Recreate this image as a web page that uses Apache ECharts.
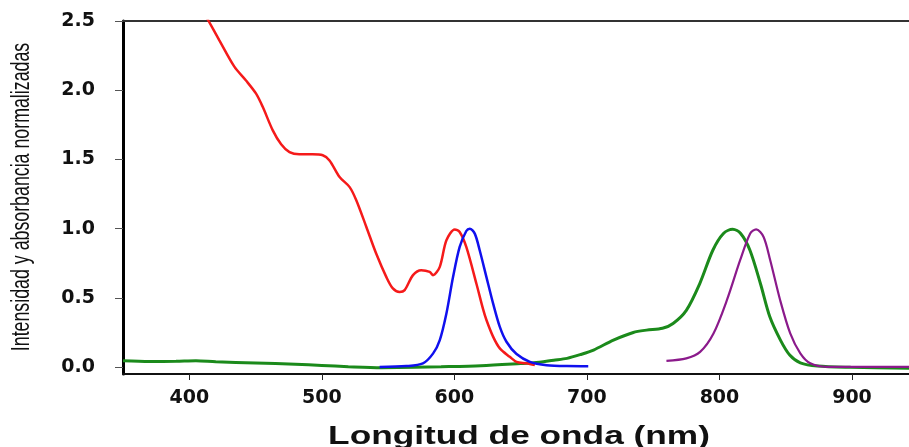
<!DOCTYPE html>
<html>
<head>
<meta charset="utf-8">
<script src="https://cdn.jsdelivr.net/npm/echarts@6/dist/echarts.min.js"></script>
<style>html,body{margin:0;padding:0;background:#fff}#c{width:909px;height:447px}</style>
</head>
<body>
<div id="c"></div>
<script>
const xTicks = [400, 500, 600, 700, 800, 900];
const yTicks = [0, 0.5, 1.0, 1.5, 2.0, 2.5];
const xTitle = 'Longitud de onda (nm)';
const yTitle = 'Intensidad y absorbancia normalizadas';

const redAbs = [[411,2.56],[414.6,2.5],[422.7,2.36],[434,2.17],[442.8,2.07],[450.4,1.975],[455.4,1.88],[463,1.71],[469.3,1.61],[475.6,1.553],[483,1.537],[493,1.537],[500.7,1.53],[505.8,1.493],[513.4,1.373],[521,1.30],[526,1.205],[533.6,1.012],[541,0.82],[548.7,0.65],[553.6,0.568],[558.7,0.543],[562.5,0.556],[568.8,0.664],[575,0.70],[581.4,0.688],[583.9,0.664],[589,0.724],[594,0.916],[600.3,0.994],[604,0.976],[609,0.868],[616.7,0.60],[621.6,0.42],[624.2,0.34],[629.2,0.22],[634.3,0.135],[641.8,0.074],[646.9,0.038],[654.4,0.027],[660.7,0.014]];
const blueEm = [[543.6,0.0],[563.8,0.007],[576.3,0.027],[584,0.099],[589,0.195],[594,0.387],[599,0.65],[604,0.868],[609,0.983],[611.6,1.0],[615.4,0.964],[619.1,0.844],[624.2,0.65],[629.2,0.46],[634.3,0.29],[639.3,0.183],[646.9,0.094],[657,0.038],[669.6,0.014],[684.7,0.007],[701,0.006]];
const greenAbs = [[350,0.045],[370,0.04],[390,0.042],[405,0.046],[420,0.038],[450,0.03],[480,0.02],[500,0.012],[520,0.003],[545,-0.004],[570,-0.002],[590,0.002],[620,0.01],[650,0.025],[660,0.031],[675,0.05],[685,0.063],[695,0.09],[705,0.123],[720,0.195],[735,0.25],[745,0.267],[757,0.28],[765,0.315],[775,0.41],[785,0.6],[795,0.844],[803,0.965],[810,0.995],[816,0.965],[823,0.844],[831,0.6],[838,0.363],[846,0.195],[853,0.087],[861,0.031],[874,0.007],[899,-0.002],[943,-0.008]];
const purpleEm = [[760,0.045],[775,0.063],[785.4,0.11],[795.5,0.243],[805.6,0.483],[815.6,0.772],[823.2,0.965],[827.7,0.995],[833.3,0.94],[838.3,0.772],[845.8,0.483],[853.4,0.243],[861,0.099],[868.5,0.027],[881,0.002],[943,0.002]];

const chart = echarts.init(document.getElementById('c'), null, {renderer: 'canvas'});
const lbl = {fontFamily: 'DejaVu Sans', fontWeight: 'bold', fontSize: 19, color: '#111'};
chart.setOption({
  animation: false,
  grid: {left: 123, right: 0, top: 21, bottom: 73},
  xAxis: [{
    type: 'value', min: 350, max: 943, position: 'bottom',
    splitLine: {show: false},
    axisLine: {show: true, onZero: false, lineStyle: {color: '#111', width: 2}},
    axisTick: {show: true, length: 6, lineStyle: {color: '#222', width: 1}, customValues: xTicks},
    axisLabel: Object.assign({margin: 15, customValues: xTicks}, lbl)
  }, {
    type: 'value', min: 350, max: 943, position: 'top',
    splitLine: {show: false},
    axisLine: {show: true, onZero: false, lineStyle: {color: '#333', width: 2}},
    axisTick: {show: false}, axisLabel: {show: false}
  }],
  yAxis: {
    type: 'value', min: -0.05, max: 2.5,
    splitLine: {show: false},
    axisLine: {show: true, onZero: false, lineStyle: {color: '#000', width: 3}},
    axisTick: {show: true, length: 8, lineStyle: {color: '#555', width: 1}, customValues: yTicks},
    axisLabel: Object.assign({margin: 28, customValues: yTicks, formatter: v => v.toFixed(1)}, lbl)
  },
  graphic: [{
    type: 'text', x: 519, y: 437, scaleX: 1.41,
    style: {text: xTitle, x: 0, y: 0, align: 'center', verticalAlign: 'middle',
      fontFamily: 'Liberation Sans', fontWeight: 'bold', fontSize: 25, fill: '#111'}
  }, {
    type: 'text', x: 22, y: 197, rotation: Math.PI / 2, scaleY: 1.4,
    style: {text: yTitle, x: 0, y: 0, align: 'center', verticalAlign: 'middle',
      fontFamily: 'Liberation Sans', fontSize: 17.8, fill: '#111'}
  }],
  series: [
    {type: 'line', data: greenAbs, showSymbol: false, smooth: 0.3, lineStyle: {color: '#1b8a1b', width: 3}},
    {type: 'line', data: redAbs, showSymbol: false, smooth: 0.3, lineStyle: {color: '#f51a1a', width: 2.5}},
    {type: 'line', data: blueEm, showSymbol: false, smooth: 0.3, lineStyle: {color: '#1010ee', width: 2.5}},
    {type: 'line', data: purpleEm, showSymbol: false, smooth: 0.3, lineStyle: {color: '#8b1a8b', width: 2.2}}
  ]
});
</script>
</body>
</html>
